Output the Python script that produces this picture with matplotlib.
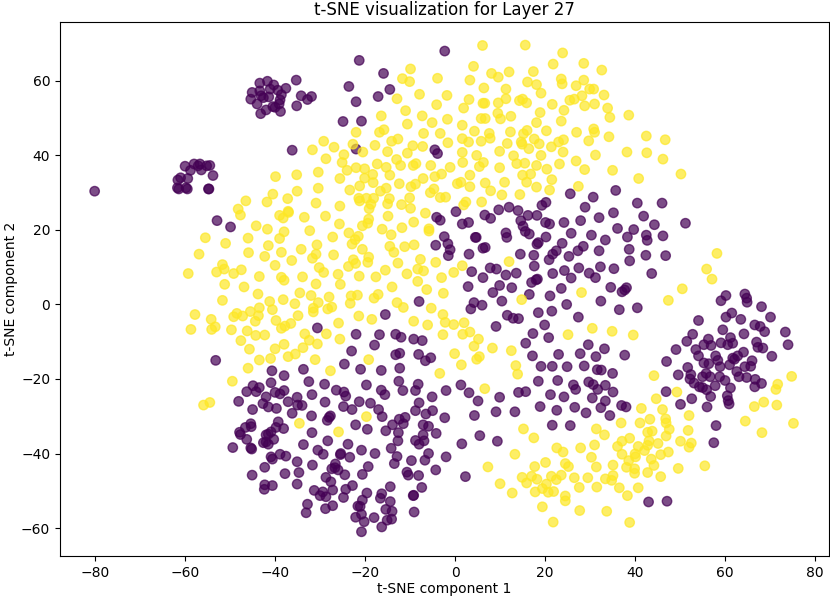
import numpy as np
import matplotlib
matplotlib.use('Agg')
import matplotlib.pyplot as plt

# values, class 0 (dark) and class 1 (yellow)
class0_points = [
    (-80.1, 30.4), (-60.0, 37.1), (-58.0, 37.7), (-56.7, 37.7), (-58.8, 36.0), (-56.4, 36.1), (-57.1, 37.2),
    (-55.2, 37.2), (-54.5, 37.3), (-53.8, 34.6), (-59.4, 33.8), (-61.0, 34.0), (-61.6, 33.4), (-61.7, 31.3),
    (-61.4, 31.0), (-59.8, 31.3), (-59.5, 31.0), (-54.8, 31.0), (-54.7, 31.0),
    (-35.3, 60.2), (-43.4, 59.4), (-41.7, 59.9), (-40.3, 58.9), (-37.6, 58.0), (-39.4, 57.5), (-45.1, 56.9),
    (-43.4, 57.3), (-41.1, 57.8), (-38.6, 56.3), (-34.2, 56.0), (-31.9, 55.8), (-32.8, 55.0), (-45.4, 55.1),
    (-43.1, 56.0), (-42.6, 55.5), (-41.4, 55.7), (-38.9, 54.9), (-44.0, 53.8), (-39.1, 53.8), (-40.5, 53.1),
    (-40.0, 52.9), (-35.2, 53.3), (-42.0, 52.2), (-43.2, 51.2), (-38.8, 51.8), (-36.2, 41.4),
    (-21.3, 65.5), (-2.3, 68.0), (-15.9, 62.0), (-23.6, 58.5), (-14.5, 57.7), (-17.1, 55.8), (-22.0, 54.4),
    (-24.9, 49.1), (-20.8, 49.2), (-22.0, 41.7), (-4.5, 41.5), (-3.9, 40.5), (25.6, 29.7), (20.2, 27.4),
    (19.3, 26.6), (12.0, 26.1),
    (35.7, 30.6), (30.7, 28.8), (28.9, 26.1), (40.5, 27.2), (46.0, 27.2), (35.2, 24.6), (32.0, 23.3),
    (41.9, 23.7), (44.3, 21.4), (51.2, 21.8), (36.1, 20.4), (39.7, 20.1), (30.3, 18.6), (38.3, 18.1),
    (42.5, 18.6), (42.7, 17.2), (46.2, 18.4), (33.4, 17.3), (28.5, 15.6), (38.7, 14.8), (32.0, 14.4),
    (42.4, 13.2), (46.8, 13.1), (38.8, 11.7), (32.3, 10.1), (35.3, 9.6), (29.8, 8.4), (31.2, 7.2),
    (43.7, 8.3), (34.6, 4.6), (38.1, 4.5), (37.1, 3.4), (37.7, 3.9),
    (-52.9, 22.5), (-49.9, 20.8), (-15.5, -2.7), (-30.6, -6.3), (-22.0, -8.0), (-16.8, -8.1), (-13.2, -8.0),
    (-12.0, -8.8), (-17.9, -10.9), (-23.0, -12.5), (-13.2, -13.5), (-12.3, -13.1), (-53.2, -15.0), (-24.6, -16.0),
    (-21.0, -17.4), (-16.4, -17.7), (-12.3, -17.1), (-33.7, -17.4), (-40.7, -17.8), (-38.0, -19.1),
    (0.2, 24.9), (9.7, 25.4), (14.0, 25.2), (-4.1, 23.4), (-3.3, 22.6), (6.6, 24.0), (7.9, 23.1), (1.6, 21.6),
    (3.0, 22.0), (16.2, 23.9), (18.2, 23.9), (14.6, 22.5), (15.1, 21.0), (15.6, 19.6), (16.5, 18.9), (20.1, 22.0),
    (21.0, 21.6), (24.2, 22.0), (27.9, 22.5), (25.8, 19.1), (11.3, 19.2), (11.5, 18.0), (-2.4, 18.2), (4.5, 18.0),
    (4.7, 18.0), (20.2, 18.1), (-1.6, 16.3), (-4.3, 15.9), (-1.1, 14.7), (-1.5, 13.1), (6.2, 15.1), (6.7, 15.3),
    (3.1, 13.5), (14.5, 13.5), (17.5, 13.2), (18.2, 16.2), (18.5, 16.6), (23.8, 16.4), (22.5, 14.4), (21.7, 13.5),
    (20.9, 12.0), (27.3, 14.4), (25.3, 12.9), (17.6, 10.3), (7.8, 9.8), (9.2, 9.5), (3.7, 8.8), (13.6, 8.4),
    (11.3, 7.9), (6.2, 7.2), (21.7, 8.3), (24.3, 9.1), (27.5, 9.8), (25.8, 7.1), (18.3, 6.8), (18.0, 6.6),
    (17.0, 5.9), (2.9, 4.8), (9.9, 5.1), (12.6, 4.5), (8.4, 3.2), (23.6, 4.3), (16.5, 2.7), (21.1, 2.3),
    (32.4, 0.9), (36.5, -1.4), (40.5, -0.9), (4.2, 0.5), (3.5, -1.2), (6.0, -0.2), (10.4, 0.9), (-8.0, 0.8),
    (24.8, 0.0), (18.5, -2.2), (21.5, -1.8), (11.6, -2.9), (12.9, -3.7), (14.1, -3.8), (27.4, -3.4), (9.1, -5.9),
    (19.9, -5.5), (17.3, -7.8), (20.8, -8.9), (-9.2, -9.3), (-7.3, -9.7), (15.7, -10.4), (29.6, -10.8), (33.2, -11.9),
    (-8.1, -13.4), (-5.4, -14.3), (-6.6, -15.1), (17.2, -13.8), (23.0, -13.4), (27.8, -13.2), (31.3, -14.0),
    (37.7, -13.6), (19.1, -16.6), (21.6, -16.6), (24.9, -16.7), (28.7, -16.5), (31.6, -17.5), (32.5, -17.6),
    (60.2, 2.4), (59.1, 1.0), (64.4, 2.8), (64.8, 1.7), (64.9, 0.6), (68.1, -0.6), (61.5, -2.3), (60.2, -3.4),
    (63.5, -4.0), (70.1, -3.4), (54.1, -4.3), (66.6, -5.5), (67.8, -5.9), (68.8, -7.3), (73.4, -7.4), (59.5, -6.8),
    (52.8, -8.0), (64.2, -7.9), (51.5, -9.9), (56.3, -9.3), (55.3, -10.8), (56.9, -11.0), (59.1, -10.3), (61.2, -8.9),
    (61.7, -10.4), (60.6, -10.8), (67.0, -10.1), (74.0, -10.8), (67.3, -11.5), (68.4, -11.7), (49.1, -12.1),
    (53.5, -12.1), (64.1, -12.8), (70.4, -13.9), (54.1, -13.8), (57.9, -13.8), (58.4, -15.0), (62.8, -13.8),
    (61.7, -14.4), (62.1, -14.7), (47.0, -15.3), (55.3, -15.7), (56.4, -15.9), (58.9, -16.7), (61.0, -16.2),
    (66.0, -15.1), (65.7, -16.6), (64.4, -16.7), (51.7, -16.9), (62.6, -18.0), (49.6, -18.9), (52.4, -18.8),
    (55.8, -18.5), (52.2, -20.0), (55.0, -19.4), (56.7, -19.4), (58.8, -19.4), (63.1, -19.4), (64.8, -19.6),
    (66.7, -20.1), (60.0, -20.4), (68.1, -21.2), (53.1, -21.1), (57.8, -21.8), (66.6, -22.1), (61.2, -22.4),
    (54.3, -22.1), (55.0, -22.3), (55.9, -22.9), (46.9, -23.4), (56.8, -24.7), (60.5, -24.5), (52.6, -25.3),
    (60.7, -25.8), (60.9, -26.7), (50.1, -26.8), (56.0, -27.5), (58.0, -32.5), (57.5, -37.1),
    (-40.9, -21.0), (-32.5, -20.7), (-29.0, -21.4), (-19.7, -21.6), (-12.5, -20.6), (-8.2, -21.4), (-44.9, -21.8),
    (-43.5, -22.3), (-46.3, -23.4), (-44.2, -23.4), (-38.0, -23.1), (-40.0, -23.6), (-38.9, -24.0), (-31.8, -24.2),
    (-26.4, -23.0), (-24.7, -23.5), (-24.3, -24.6), (-16.4, -23.0), (-15.6, -24.2), (-11.6, -23.1), (-8.8, -23.1),
    (-5.1, -24.8), (-42.0, -24.8), (-35.1, -24.9), (-48.1, -26.0), (-42.7, -26.6), (-37.1, -26.1), (-35.0, -27.0),
    (-34.0, -27.1), (-28.9, -26.2), (-21.3, -26.1), (-18.8, -26.5), (-8.0, -26.4), (-41.5, -27.5), (-39.7, -27.9),
    (-24.8, -27.4), (-22.9, -28.2), (-17.0, -28.2), (-45.0, -28.2), (-8.8, -28.5), (-5.0, -28.5), (-6.5, -29.4),
    (-36.2, -29.2), (-31.9, -29.9), (-16.2, -30.1), (-27.7, -29.9), (-28.0, -30.3), (-28.4, -31.1), (-11.1, -30.3),
    (-12.4, -30.8), (-11.5, -32.0), (-13.9, -32.3), (-39.3, -31.5), (-45.4, -32.0), (-45.3, -32.8), (-46.6, -33.0),
    (-22.1, -32.3), (-7.1, -32.3), (-5.9, -32.7), (-39.8, -33.0), (-38.1, -33.3), (-19.5, -33.5), (-15.4, -33.9),
    (-47.9, -34.3), (-47.7, -34.9), (-40.9, -34.2), (-41.5, -34.8), (-42.0, -35.0), (-31.8, -34.4), (-12.6, -34.4),
    (-7.1, -35.0), (-4.2, -34.6), (-46.3, -36.2), (-40.3, -36.2), (-28.3, -36.6), (-12.7, -36.6), (-8.8, -36.5),
    (-6.9, -36.6), (-8.0, -37.5), (-23.8, -37.5), (-33.7, -37.6), (-42.6, -37.1), (-42.0, -36.9), (-41.5, -37.5),
    (-49.4, -38.4), (-45.4, -38.5), (-45.2, -38.8), (-14.2, -38.6), (-30.5, -39.1), (-29.3, -40.2), (-20.8, -39.1),
    (-17.8, -40.0), (-25.4, -40.0), (-25.5, -40.3), (-5.9, -40.0), (-38.9, -40.2), (-37.6, -40.7), (-40.9, -40.9),
    (-40.6, -41.5), (-23.4, -41.0), (-12.9, -40.8), (-35.1, -42.2), (-9.7, -41.9), (-6.7, -41.8), (-13.5, -42.7),
    (-31.7, -43.1), (-26.6, -42.8), (-42.3, -43.7), (-27.4, -44.1), (-26.7, -43.8), (-26.0, -44.4), (-19.3, -43.5),
    (-4.3, -44.4), (-34.7, -45.1), (-45.1, -45.8), (-37.8, -45.4), (-24.5, -45.7), (-20.6, -45.6), (-10.7, -45.0),
    (-10.4, -45.8), (-8.1, -45.9), (-28.7, -46.4), (-27.6, -47.6), (-35.1, -48.2), (-40.6, -48.6), (-42.3, -48.4),
    (-42.4, -49.6), (-22.8, -48.6), (-14.4, -48.9), (-7.4, -49.1), (-24.3, -49.6), (-27.2, -49.8), (-31.3, -49.9),
    (-29.4, -50.3), (-30.0, -51.3), (-28.7, -51.6), (-19.6, -50.6), (-16.3, -50.8), (-16.6, -52.0), (-24.8, -51.8),
    (-9.3, -51.3), (-9.2, -51.2), (-20.6, -52.5), (-14.4, -52.9), (-32.8, -53.6), (-27.2, -54.0), (-28.8, -54.8),
    (-21.6, -54.1), (-21.1, -54.2), (-15.4, -55.0), (-14.0, -55.5), (-33.1, -55.9), (-9.1, -55.7), (-20.8, -56.3),
    (-22.1, -57.1), (-18.0, -57.2), (-14.1, -57.6), (-15.1, -57.9), (-20.2, -58.3), (-16.3, -59.7), (-20.8, -61.0),
    (35.0, -18.5), (18.5, -20.6), (22.8, -20.4), (26.3, -21.6), (26.8, -22.8), (29.7, -20.8), (30.7, -21.5),
    (31.7, -22.8), (33.4, -21.7), (35.1, -23.5), (1.3, -21.6), (-2.0, -23.1), (3.1, -23.7), (5.1, -25.9), (9.9, -24.9),
    (14.1, -23.6), (15.7, -23.4), (21.2, -24.2), (24.2, -24.8), (30.5, -25.1), (33.4, -25.9), (32.4, -27.7),
    (37.0, -27.1), (38.0, -27.5), (18.9, -27.4), (22.6, -28.4), (26.6, -27.6), (29.1, -29.1), (34.4, -29.8),
    (9.1, -28.8), (13.3, -28.8), (4.3, -29.8), (-2.3, -30.4), (21.6, -32.4), (25.6, -32.5), (5.5, -35.2),
    (9.4, -36.7), (1.5, -37.4), (-2.0, -40.9), (2.3, -46.2), (43.0, -53.0), (47.1, -52.8),
]

class1_points = [
    (-31.7, 41.5), (-39.9, 34.3), (-35.2, 34.8), (-30.4, 35.5), (-30.4, 31.2), (-40.5, 29.6), (-35.1, 30.4),
    (-37.2, 28.4), (-41.8, 27.5), (-46.5, 27.8), (-30.9, 27.2), (-48.2, 25.6), (-37.1, 25.0),
    (6.1, 69.5), (15.6, 69.6), (23.9, 67.5), (21.8, 64.5), (4.1, 63.9), (-9.9, 63.2), (8.1, 62.0), (12.0, 62.4),
    (17.4, 62.5), (9.6, 61.0), (-11.7, 60.6), (-10.1, 59.8), (-3.9, 60.7), (3.3, 60.2), (16.1, 59.7), (23.6, 60.5),
    (23.8, 59.2), (18.1, 59.0), (26.9, 58.7), (6.4, 58.1), (11.3, 57.8), (19.1, 56.7), (-7.9, 56.4), (-1.8, 56.1),
    (-12.9, 55.2), (3.1, 55.0), (11.3, 55.2), (9.6, 54.1), (6.2, 54.0), (6.6, 54.0), (14.3, 54.7), (15.0, 55.1),
    (15.9, 54.1), (21.6, 53.7), (25.5, 54.8), (26.5, 55.1), (-4.1, 53.6), (1.9, 52.7), (-11.0, 52.0), (9.5, 51.3),
    (18.9, 51.5), (24.2, 52.1), (-16.4, 50.6), (-7.3, 50.6), (-1.7, 49.7), (5.8, 49.9), (6.7, 49.9), (10.1, 49.8),
    (12.4, 50.5), (-5.1, 48.8), (18.1, 48.8), (23.6, 49.2), (-10.6, 48.4), (1.6, 48.1), (-15.8, 46.9), (-16.8, 46.2),
    (-22.0, 46.2), (-7.0, 45.9), (-3.3, 45.9), (4.3, 46.5), (12.3, 46.3), (16.0, 46.7), (15.2, 45.8), (20.3, 46.6),
    (27.0, 46.2), (7.6, 45.9), (7.8, 44.6), (1.6, 44.5), (3.0, 43.6), (5.8, 43.8), (-12.7, 44.4), (-14.1, 43.8),
    (-29.2, 43.8), (11.6, 43.2), (14.7, 43.6), (14.9, 43.0), (17.6, 44.4), (18.7, 43.1), (24.1, 44.2), (23.0, 43.6),
    (21.4, 42.3), (-22.7, 43.0), (-17.8, 42.7), (-26.9, 42.2), (-9.4, 42.6), (-7.2, 42.4), (-1.6, 43.4), (16.4, 41.8),
    (9.9, 41.1), (-20.5, 40.9), (-15.0, 41.0), (-10.6, 40.6), (1.6, 40.8), (24.0, 40.9), (-24.7, 40.2), (4.8, 40.0),
    (13.0, 39.9), (19.1, 40.0), (-28.7, 39.1), (-13.0, 38.9), (-25.1, 38.1), (-17.3, 37.7), (1.7, 38.1), (6.3, 38.1),
    (13.7, 37.8), (15.5, 37.9), (23.2, 37.7), (26.9, 38.5), (-12.1, 37.3), (-8.7, 37.8), (-9.3, 37.3), (-5.4, 37.3),
    (18.1, 37.3), (-22.0, 36.7), (-20.1, 36.4), (-15.3, 36.8), (-1.1, 36.8), (5.4, 37.0), (9.9, 36.7), (-24.0, 36.0),
    (20.4, 36.3), (-18.3, 34.9), (-14.5, 34.7), (-3.0, 35.0), (3.3, 34.7), (16.8, 35.0), (15.0, 34.7), (-25.6, 33.8),
    (-20.1, 33.9), (-4.5, 34.3), (-7.1, 33.8), (21.5, 33.5), (-18.2, 32.7), (-12.4, 32.4), (-8.8, 32.3), (-9.8, 31.6),
    (0.5, 32.4), (1.3, 32.8), (6.7, 32.6), (11.0, 32.8), (15.9, 32.8), (-21.2, 31.8), (3.3, 31.6), (18.1, 31.5),
    (27.4, 31.7), (-23.4, 30.7), (-15.3, 31.2), (-16.6, 30.4), (-4.7, 31.0), (-5.5, 30.0), (7.9, 30.5), (21.0, 30.7),
    (-21.4, 28.5), (-21.2, 27.8), (-19.7, 28.5), (-18.1, 28.5), (-14.6, 28.4), (-10.1, 28.6), (-3.3, 28.7), (-2.1, 28.8),
    (10.4, 29.4), (14.4, 29.5), (-25.6, 26.4), (-18.7, 26.9), (-15.0, 27.0), (-11.9, 26.8), (2.4, 27.5), (1.9, 26.7),
    (5.9, 27.5), (-9.9, 25.8), (-19.1, 25.7),
    (28.6, 64.7), (32.6, 62.9), (28.6, 60.2), (29.9, 57.8), (30.8, 57.8), (33.1, 56.2), (28.2, 56.0),
    (28.8, 53.3), (31.0, 53.8), (33.9, 52.7), (34.4, 50.2), (38.6, 50.8), (30.8, 47.1), (31.0, 46.2), (34.2, 45.0),
    (42.5, 45.2), (46.7, 44.2), (29.7, 43.9), (31.2, 40.1), (38.2, 40.9), (42.6, 40.7), (46.2, 39.0), (28.8, 36.2),
    (35.0, 36.0), (40.8, 33.8), (50.2, 35.0), (58.2, 13.7), (55.9, 9.5), (57.1, 6.8), (50.5, 4.2),
    (-47.7, 24.0), (-39.0, 23.9), (-38.2, 23.2), (-37.0, 24.7), (-33.5, 23.4), (-28.8, 23.7), (-25.7, 21.6),
    (-19.2, 22.9), (-19.4, 21.8), (-20.6, 21.1), (-14.9, 23.7), (-44.2, 21.1), (-41.7, 20.2), (-38.0, 19.5),
    (-32.3, 19.8), (-16.2, 20.2), (-23.6, 19.2), (-14.2, 18.7), (-55.5, 17.9), (-46.0, 17.8), (-39.0, 17.7),
    (-27.2, 18.1), (-21.5, 18.3), (-22.2, 17.4), (-22.9, 16.2), (-51.0, 16.4), (-41.5, 15.8), (-30.7, 16.0),
    (-14.5, 15.6), (-34.2, 14.8), (-20.6, 14.8), (-56.9, 13.5), (-45.9, 13.9), (-38.6, 14.0), (-30.9, 13.5),
    (-13.6, 14.0), (-42.3, 12.9), (-31.7, 12.4), (-27.0, 13.3), (-19.2, 12.7), (-36.3, 11.8), (-22.6, 12.0),
    (-22.1, 11.0), (-19.4, 11.3), (-12.7, 11.1), (-51.7, 10.7), (-40.0, 10.5), (-23.7, 10.2), (-30.2, 9.9),
    (-51.3, 9.5), (-47.5, 9.3), (-59.3, 8.3), (-53.0, 8.7), (-49.2, 8.3), (-29.2, 8.6), (-15.5, 9.2), (-26.0, 8.1),
    (-43.5, 7.5), (-38.6, 7.3), (-38.0, 6.5), (-33.9, 7.4), (-21.3, 7.6), (-17.6, 7.4), (-51.2, 5.4), (-46.9, 4.7),
    (-30.9, 5.5), (-25.5, 5.4), (-14.0, 4.7), (-34.5, 3.1), (-43.8, 2.8), (-32.0, 2.4), (-28.0, 2.0), (-23.1, 2.3),
    (-21.7, 2.5), (-17.1, 2.7), (-18.0, 1.7), (-51.7, 1.1), (-41.2, 0.8), (-38.2, 1.3), (-30.4, 0.5), (-35.6, 0.2),
    (-23.3, 0.3), (-12.9, 0.5), (-43.5, -0.9), (-40.6, -1.4), (-31.5, -1.0), (-31.5, -2.0), (-27.4, -0.7), (-28.3, -1.2),
    (-45.5, -1.9), (-57.8, -2.7), (-48.5, -2.4), (-49.2, -3.3), (-47.2, -3.1), (-43.7, -3.0), (-34.9, -3.0),
    (-21.4, -3.1), (-54.2, -4.0), (-44.4, -4.5), (-39.8, -4.3), (-18.5, -4.0), (-25.9, -5.0), (-36.5, -5.1),
    (-37.8, -5.8), (-38.6, -6.4), (-53.3, -6.0), (-54.1, -6.7), (-58.7, -6.7), (-49.7, -6.8), (-46.2, -7.1),
    (-44.3, -8.3), (-42.3, -8.2), (-33.4, -7.9), (-28.6, -7.9), (-47.6, -9.7), (-32.4, -9.6), (-25.6, -9.3),
    (-30.6, -10.6), (-38.0, -10.7), (-33.8, -11.6), (-45.7, -12.0), (-40.0, -11.9), (-35.5, -13.3), (-37.1, -14.0),
    (-41.0, -14.5), (-43.5, -14.9), (-31.1, -14.8), (-19.2, -14.8), (-46.0, -17.1), (-27.7, -17.8),
    (-6.6, 24.5), (-9.2, 22.1), (-11.8, 20.6), (-5.8, 20.3), (-5.8, 19.7), (-11.2, 15.5), (-9.1, 16.0), (-7.7, 12.1),
    (-4.3, 11.3), (1.6, 10.4), (12.0, 11.5), (-8.3, 9.5), (-7.0, 9.0), (-10.7, 8.2), (-0.3, 8.6), (-3.0, 7.2),
    (-8.3, 6.2), (-6.3, 4.0), (-2.6, 3.0), (28.1, 3.2), (14.8, 1.3), (-11.5, -0.8), (-5.3, -1.0), (-2.7, -2.7),
    (-9.2, -4.5), (-2.2, -4.8), (-0.3, -5.4), (2.0, -4.9), (-6.1, -5.5), (30.5, -6.4), (34.9, -7.2), (25.1, -8.1),
    (39.6, -8.2), (-2.7, -8.1), (1.7, -8.0), (3.3, -7.4), (5.2, -9.3), (4.2, -11.2), (8.3, -11.7), (12.5, -12.4),
    (-0.1, -13.2), (5.4, -14.0), (4.8, -14.7), (1.4, -16.2), (13.5, -16.4), (13.9, -18.7), (-3.4, -18.5),
    (47.4, 1.1), (74.8, -19.3), (71.7, -21.4), (71.3, -22.8), (68.6, -26.2), (66.5, -27.4), (71.5, -27.0),
    (52.0, -29.8), (64.5, -31.3), (75.2, -31.9), (51.8, -33.8), (68.2, -34.4), (50.1, -36.7), (52.5, -37.2),
    (52.0, -38.3), (55.5, -43.3), (49.6, -44.0),
    (-49.5, -20.6), (-55.9, -27.0), (-54.5, -26.3), (-34.6, -31.9), (-25.9, -34.2), (-19.7, -30.1),
    (6.6, -22.6), (44.2, -19.1), (44.7, -25.3), (49.3, -23.5), (41.4, -27.9), (46.1, -28.2), (43.3, -30.8),
    (46.8, -30.7), (46.9, -31.8), (47.6, -33.5), (46.9, -35.3), (36.9, -31.8), (41.1, -31.8), (42.8, -34.3),
    (43.8, -34.0), (31.4, -33.4), (15.2, -33.4), (33.2, -35.0), (17.5, -35.8), (38.8, -35.9), (37.1, -36.7),
    (43.1, -36.6), (45.1, -37.3), (31.0, -37.7), (27.9, -38.5), (22.6, -38.5), (36.1, -38.1), (40.7, -38.1),
    (42.8, -37.8), (42.1, -39.2), (47.4, -39.6), (24.0, -39.6), (13.3, -40.2), (37.1, -40.2), (30.3, -41.0),
    (40.0, -40.1), (40.1, -40.9), (45.7, -40.3), (43.6, -41.5), (38.6, -41.9), (20.1, -42.4), (24.5, -42.7),
    (25.2, -43.5), (35.1, -43.1), (44.2, -43.2), (7.3, -43.6), (17.7, -43.5), (31.4, -43.6), (38.1, -43.7),
    (39.9, -44.1), (39.9, -45.3), (42.8, -45.1), (14.9, -46.4), (17.0, -46.1), (18.2, -46.9), (21.4, -46.1),
    (23.6, -45.8), (22.5, -47.0), (26.5, -46.5), (29.5, -46.5), (35.1, -45.9), (33.4, -46.8), (34.8, -47.2),
    (45.7, -46.2), (10.0, -48.1), (15.9, -47.9), (20.3, -48.2), (19.4, -49.4), (27.6, -49.1), (31.5, -49.0),
    (36.5, -49.2), (40.7, -49.2), (12.7, -50.6), (17.8, -50.3), (20.7, -50.4), (21.9, -50.2), (24.5, -51.4),
    (24.5, -52.7), (38.3, -51.3), (19.4, -54.3), (27.7, -55.3), (33.7, -55.5), (21.8, -58.4), (38.8, -58.5),
]

pts0 = np.array(class0_points)
pts1 = np.array(class1_points)
tsne_x = np.concatenate([pts0[:, 0], pts1[:, 0]])
tsne_y = np.concatenate([pts0[:, 1], pts1[:, 1]])
labels = np.concatenate([np.zeros(len(pts0)), np.ones(len(pts1))])

fig = plt.figure(figsize=(8.3, 6.0), dpi=100)
ax = fig.add_axes([60 / 830, 1 - 556 / 600, 769 / 830, 534 / 600])
ax.scatter(tsne_x, tsne_y, c=labels, cmap='viridis', alpha=0.7, s=46)
ax.set_xlim(-87.8, 83.1)
ax.set_ylim(-67.5, 75.8)
ax.set_xticks(np.arange(-80, 81, 20))
ax.set_yticks(np.arange(-60, 61, 20))
ax.set_xlabel('t-SNE component 1', labelpad=2)
ax.set_ylabel('t-SNE component 2', labelpad=2)
ax.set_title('t-SNE visualization for Layer 27', pad=5)
plt.savefig('out.png', dpi=100)
